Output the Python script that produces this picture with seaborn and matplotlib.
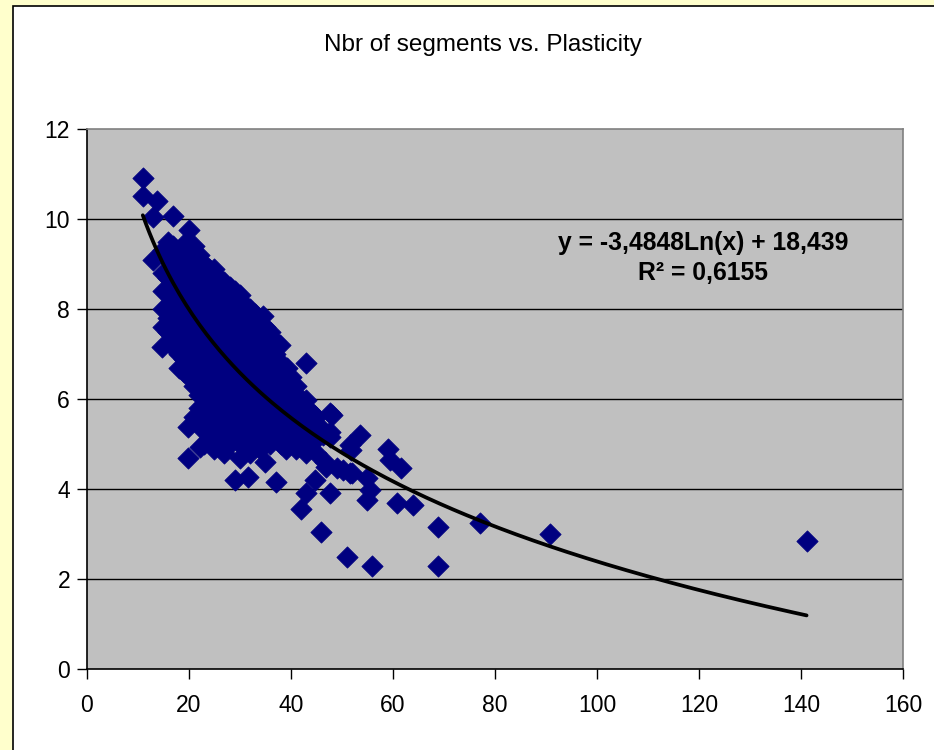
import numpy as np
import pandas as pd
import seaborn as sns
import matplotlib
matplotlib.use("Agg")
import matplotlib.pyplot as plt
from matplotlib.patches import Rectangle

# ---------------- data ----------------
plasticity = [
    11.0, 11.0, 13.8, 13.0, 16.9, 20.1, 13.0, 14.7, 15.7, 16.0,
    15, 15, 15, 15, 15,
    16, 16, 16, 16, 16, 16,
    17, 17, 17, 17, 17, 17, 17, 17,
    18, 18, 18, 18, 18, 18, 18, 18,
    19, 19, 19, 19, 19, 19, 19, 19, 19,
    20, 20, 20, 20, 20, 20, 20, 20, 20, 19.9, 19.9,
    21, 21, 21, 21, 21, 21, 21, 21, 21, 21, 21,
    22, 22, 22, 22, 22, 22, 22, 22, 22, 22, 22, 22, 22.2,
    23, 23, 23, 23, 23, 23, 23, 23, 23, 23, 23, 23,
    24, 24, 24, 24, 24, 24, 24, 24, 24, 24, 24,
    25, 25, 25, 25, 25, 25, 25, 25, 25, 25, 25, 25,
    26, 26, 26, 26, 26, 26, 26, 26, 26, 26, 26,
    27, 27, 27, 27, 27, 27, 27, 27, 27, 27, 27,
    28, 28, 28, 28, 28, 28, 28, 28, 28, 28, 28,
    29, 29, 29, 29, 29, 29, 29, 29, 29, 29.4, 29.1,
    30, 30, 30, 30, 30, 30, 30, 30, 30, 30, 30,
    31, 31, 31, 31, 31, 31, 31, 31, 31, 31.6,
    32, 32, 32, 32, 32, 32, 32, 32, 32, 32,
    33, 33, 33, 33, 33, 33, 33, 33, 33,
    34, 34, 34, 34, 34, 34, 34, 34, 34,
    34.6, 35, 35, 35, 35, 35, 35, 35, 35, 34.9,
    36, 36, 36, 36, 36, 36, 36, 36,
    37, 37, 37, 37, 37, 37, 37, 37.2,
    37.9, 38, 38, 38, 38, 38, 38,
    39.2, 39, 39, 39, 39, 39,
    40, 40, 40, 40, 40,
    41, 41, 41, 41, 41,
    42, 42, 42, 42, 42.1,
    42.9, 43, 43, 43, 43, 43.0,
    43.5, 44, 44, 44, 44.5, 44.7,
    45, 45, 45, 45.5, 46.0, 46.3, 46.7, 47.0, 47.7, 47.7,
    47.7, 47.7, 48.0, 49.0, 50.2, 51.6, 51.6, 51.9, 52.0, 53.6,
    54.9, 55.5, 54.9, 59.1, 59.4, 61.7, 60.8, 64.0, 68.9, 77.1,
    51.0, 55.9, 68.9, 90.9, 141.1,
]
n_segments = [
    10.91, 10.51, 10.40, 10.04, 10.07, 9.76, 9.09, 7.16, 8.35, 8.09,
    9.3, 8.8, 8.4, 8.0, 7.6,
    9.5, 9.1, 8.7, 8.3, 7.8, 7.5,
    9.4, 9.0, 8.6, 8.2, 7.9, 7.6, 7.3, 7.15,
    9.3, 8.9, 8.5, 8.1, 7.7, 7.4, 7.0, 6.7,
    9.45, 9.1, 8.8, 8.4, 8.0, 7.6, 7.2, 6.9, 6.6,
    9.3, 8.9, 8.5, 8.2, 7.8, 7.5, 7.1, 6.8, 6.5, 5.38, 4.69,
    9.4, 9.0, 8.7, 8.3, 7.9, 7.6, 7.2, 6.9, 6.6, 6.3, 5.6,
    9.2, 8.8, 8.5, 8.1, 7.7, 7.4, 7.0, 6.7, 6.4, 6.1, 5.8, 5.5, 4.94,
    9.0, 8.7, 8.3, 7.9, 7.6, 7.2, 6.9, 6.5, 6.2, 5.9, 5.3, 5.0,
    8.9, 8.6, 8.2, 7.8, 7.5, 7.1, 6.8, 6.4, 6.1, 5.7, 5.4,
    8.9, 8.5, 8.1, 7.7, 7.4, 7.0, 6.7, 6.3, 6.0, 5.6, 5.2, 4.9,
    8.7, 8.4, 8.0, 7.6, 7.3, 6.9, 6.6, 6.2, 5.9, 5.5, 5.1,
    8.6, 8.2, 7.9, 7.5, 7.2, 6.8, 6.5, 6.1, 5.8, 5.4, 4.8,
    8.5, 8.1, 7.8, 7.4, 7.1, 6.7, 6.4, 6.0, 5.7, 5.3, 5.0,
    8.4, 8.0, 7.7, 7.3, 7.0, 6.6, 6.3, 5.9, 5.5, 5.16, 4.2,
    8.3, 7.9, 7.6, 7.2, 6.9, 6.5, 6.2, 5.8, 5.4, 5.0, 4.7,
    8.1, 7.8, 7.4, 7.1, 6.7, 6.4, 6.0, 5.7, 5.3, 4.26,
    8.0, 7.7, 7.3, 7.0, 6.6, 6.3, 5.9, 5.6, 5.2, 4.8,
    7.9, 7.6, 7.2, 6.9, 6.5, 6.2, 5.8, 5.5, 5.1,
    7.7, 7.4, 7.1, 6.7, 6.4, 6.0, 5.7, 5.3, 4.9,
    7.84, 7.6, 7.2, 6.9, 6.5, 6.2, 5.8, 5.5, 5.1, 4.6,
    7.5, 7.1, 6.8, 6.4, 6.1, 5.7, 5.4, 5.0,
    7.3, 7.0, 6.6, 6.3, 5.9, 5.6, 5.2, 4.16,
    7.2, 6.8, 6.5, 6.1, 5.8, 5.4, 5.0,
    6.69, 6.4, 6.0, 5.7, 5.3, 4.9,
    6.5, 6.2, 5.9, 5.5, 5.2,
    6.3, 6.0, 5.6, 5.3, 4.9,
    6.0, 5.7, 5.4, 5.0, 3.55,
    6.81, 5.98, 5.5, 5.2, 4.8, 3.91,
    5.75, 5.7, 5.3, 5.0, 5.65, 4.2,
    5.6, 5.2, 4.8, 5.4, 3.05, 5.2, 4.6, 4.5, 5.27, 5.69,
    5.16, 3.91, 5.64, 4.47, 4.42, 4.98, 4.35, 4.87, 4.35, 5.2,
    4.24, 3.98, 3.76, 4.9, 4.64, 4.47, 3.7, 3.64, 3.16, 3.25,
    2.5, 2.29, 2.29, 3.0, 2.84,
]

# logarithmic trendline shown on the chart: y = a*ln(x) + b
trend_a = -3.4848
trend_b = 18.439
trend_x_range = [11.0, 141.1]

x_ticks = [0, 20, 40, 60, 80, 100, 120, 140, 160]
y_ticks = [0, 2, 4, 6, 8, 10, 12]
title_text = "Nbr of segments vs. Plasticity"
equation_text = "y = -3,4848Ln(x) + 18,439\nR\u00b2 = 0,6155"

# ---------------- drawing ----------------
sns.set_theme(style="white")
plt.rcParams["font.family"] = ["Liberation Sans", "DejaVu Sans"]

W, H = 934, 750
fig = plt.figure(figsize=(W / 100, H / 100), dpi=100)
fig.patch.set_facecolor("#FFFFCC")
fig.patches.append(Rectangle((13 / W, -0.1), 1.2, 1.1 - 6 / H,
                             transform=fig.transFigure, facecolor="white",
                             edgecolor="black", linewidth=1.2, zorder=-10))

ax = fig.add_axes([86.7 / W, 1 - 669 / H, (903 - 86.7) / W, (669 - 129) / H])
ax.set_zorder(5)
ax.set_facecolor("#C0C0C0")

df = pd.DataFrame({"Plasticity": plasticity, "Segments": n_segments})
sns.scatterplot(data=df, x="Plasticity", y="Segments", marker="D", s=118,
                color="#000080", edgecolor="#000080", linewidth=0.5,
                ax=ax, zorder=3, legend=False)

tx = np.linspace(trend_x_range[0], trend_x_range[1], 200)
trend = pd.DataFrame({"x": tx, "y": trend_a * np.log(tx) + trend_b})
sns.lineplot(data=trend, x="x", y="y", color="black", linewidth=2.7,
             ax=ax, zorder=4)

ax.set_xlim(0, 160)
ax.set_ylim(0, 12)
ax.set_xticks(x_ticks)
ax.set_yticks(y_ticks)
ax.set_xticklabels([str(v) for v in x_ticks])
ax.set_yticklabels([str(v) for v in y_ticks])
ax.set_xlabel("")
ax.set_ylabel("")
for v in y_ticks[1:-1]:
    ax.axhline(v, color="black", linewidth=1.0, zorder=1)

for side in ["top", "right"]:
    ax.spines[side].set_color("#808080")
    ax.spines[side].set_linewidth(1.2)
for side in ["left", "bottom"]:
    ax.spines[side].set_color("black")
    ax.spines[side].set_linewidth(1.2)
    ax.spines[side].set_visible(True)

ax.tick_params(axis="both", which="major", direction="out", length=7,
               width=1, color="black", labelsize=16.5, labelcolor="black",
               left=True, bottom=True)
ax.tick_params(axis="x", pad=11)
ax.tick_params(axis="y", pad=5)

fig.text(483 / W, 1 - 45 / H, title_text, ha="center", va="center",
         fontsize=17.5, color="black")
fig.text(703 / W, 1 - 258 / H, equation_text, ha="center", va="center",
         fontsize=17.8, fontweight="bold", color="black", linespacing=1.3,
         zorder=10)

fig.savefig("out.png", dpi=100, facecolor=fig.get_facecolor())
